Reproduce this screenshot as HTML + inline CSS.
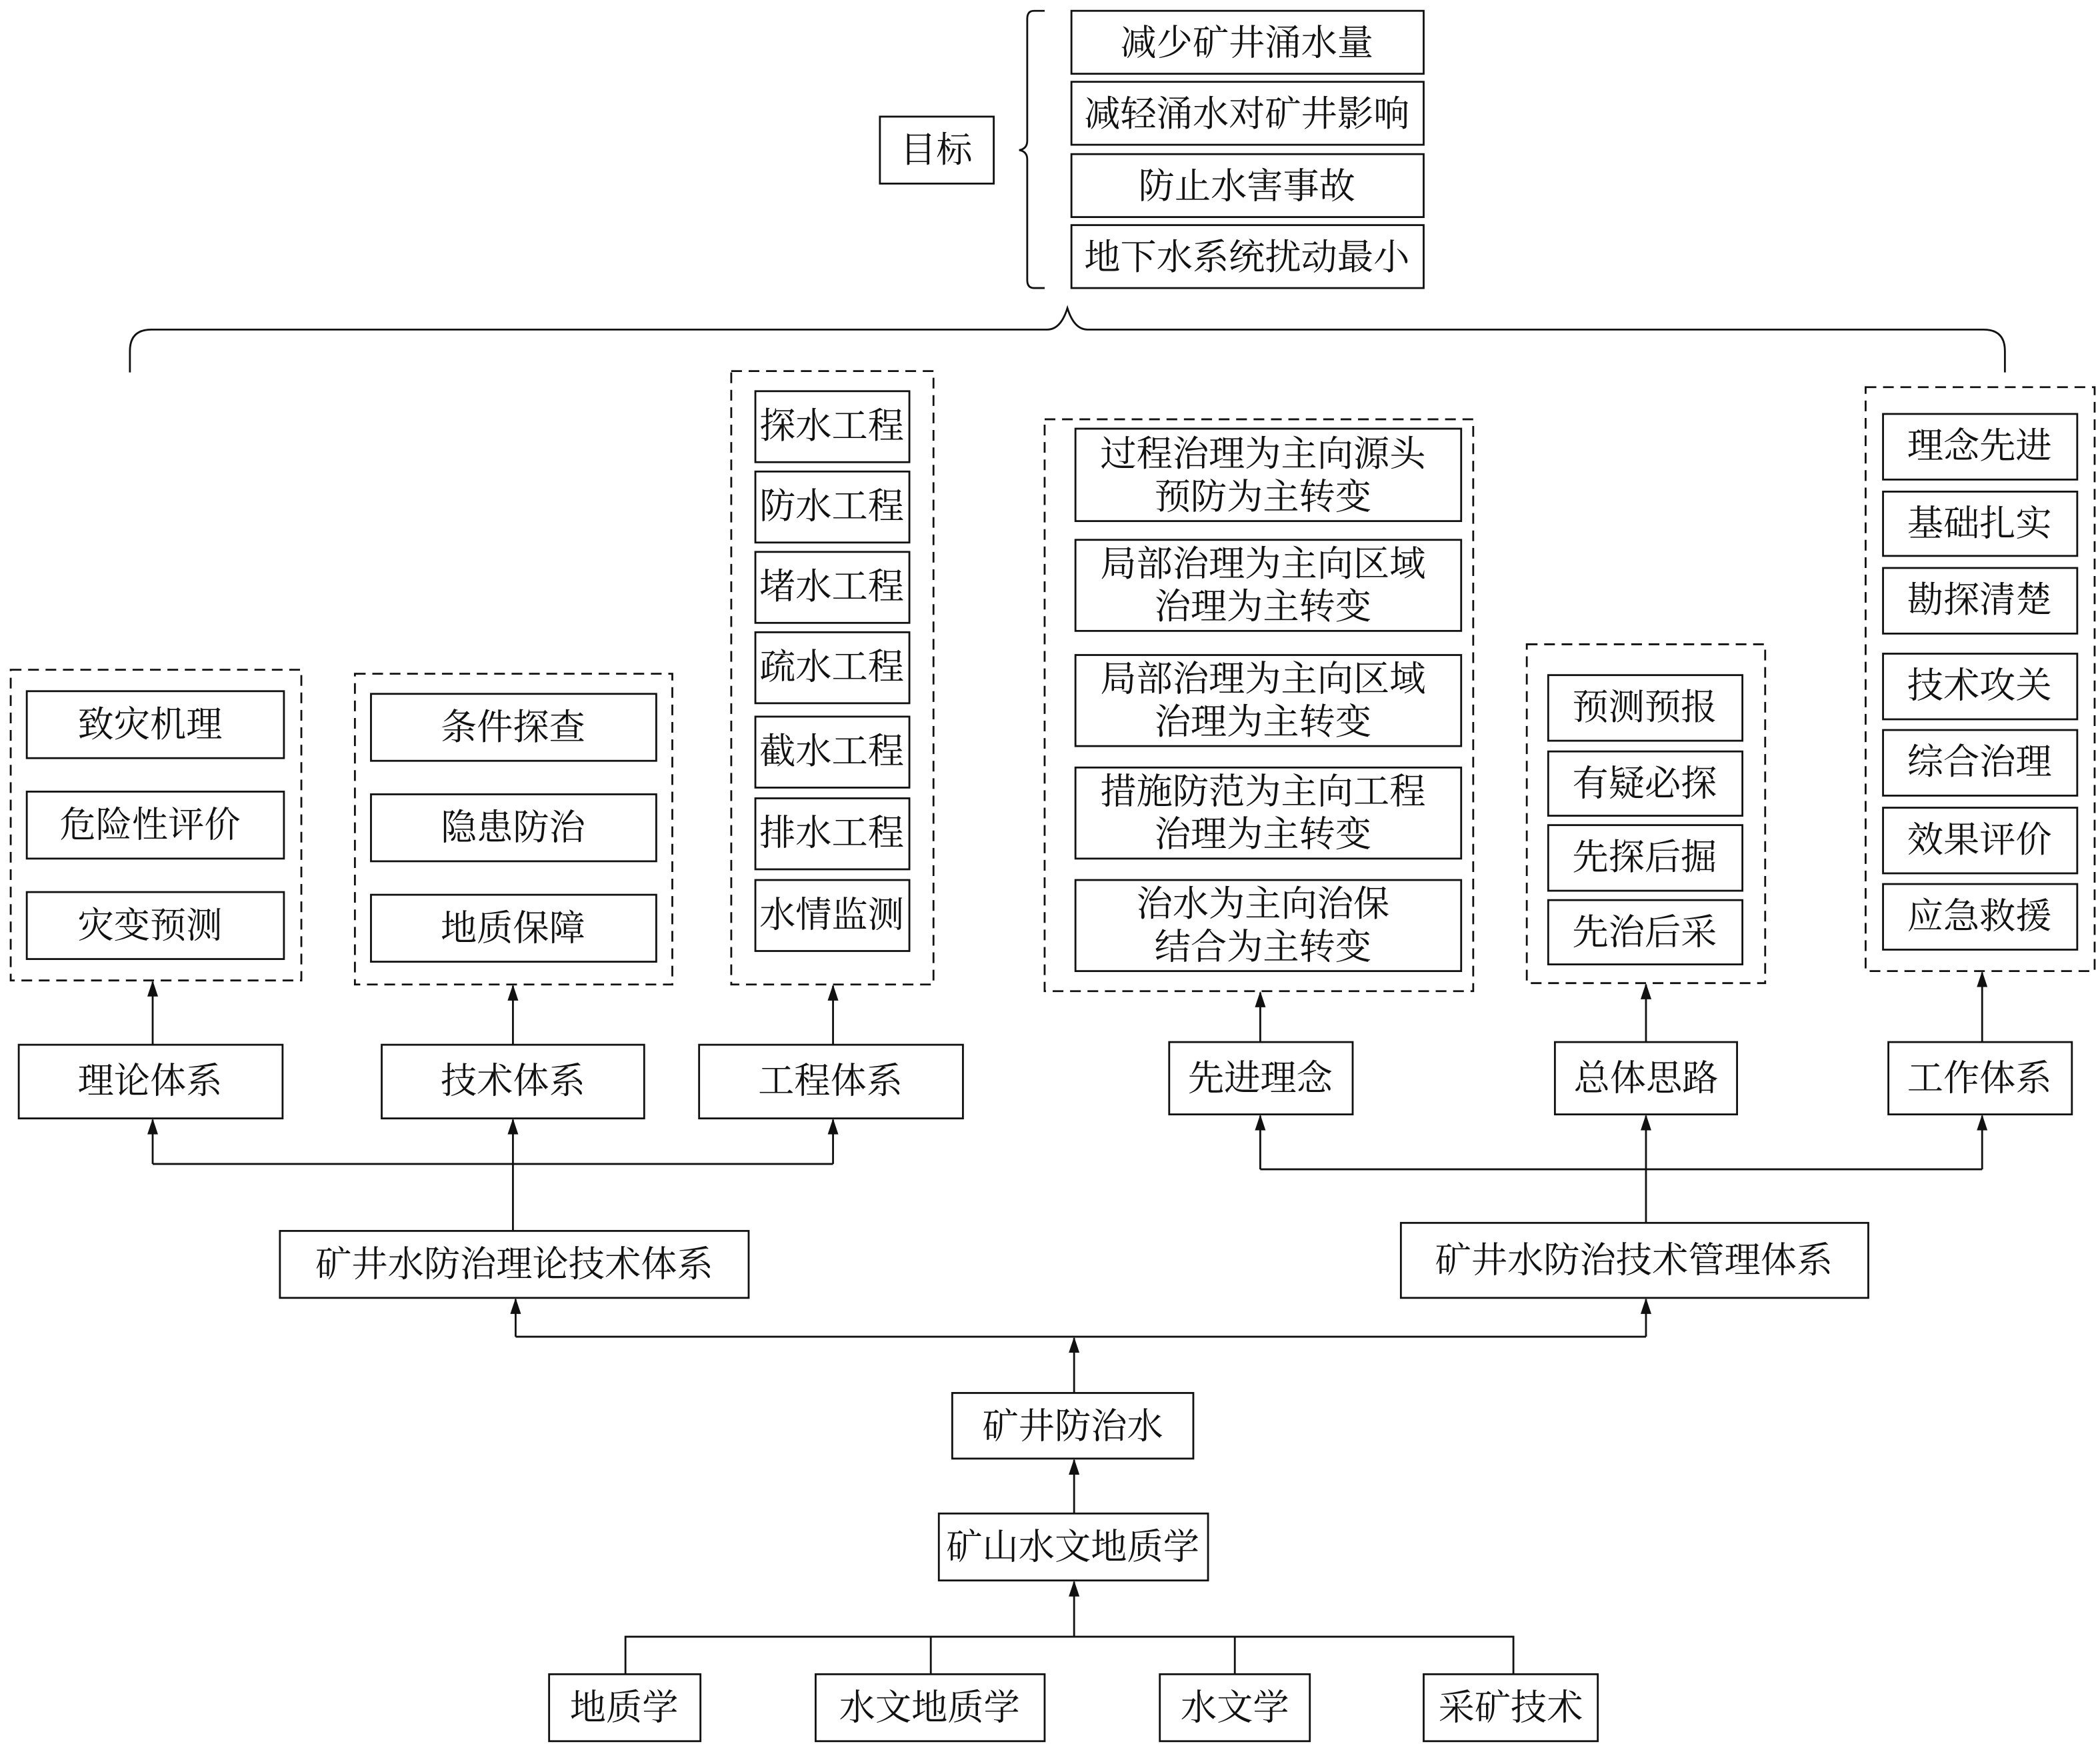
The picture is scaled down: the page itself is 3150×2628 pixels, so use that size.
<!DOCTYPE html>
<html><head><meta charset="utf-8"><style>
html,body{margin:0;padding:0;background:#fff}
svg{display:block}
text{font-family:"Liberation Serif","Noto Serif CJK SC",serif;font-size:27px;fill:#111;text-anchor:middle;dominant-baseline:central}
.b{fill:#fff;stroke:#111;stroke-width:1.4}
.d{fill:none;stroke:#111;stroke-width:1.4;stroke-dasharray:8 5}
.l{fill:none;stroke:#111;stroke-width:1.4}
</style></head><body>
<svg width="3150" height="2628" viewBox="0 0 1568 1308" xmlns="http://www.w3.org/2000/svg">
<defs><marker id="a" markerWidth="12" markerHeight="8" refX="11" refY="4" orient="auto" markerUnits="userSpaceOnUse" viewBox="0 0 12 8"><path d="M0 0 L12 4 L0 8 Z" fill="#111"/></marker></defs>
<g>
<rect class="b" x="657" y="87" width="85" height="50"/><text x="699" y="112">目标</text>
<path class="l" d="M780 8 H772 Q767 8 767 14 V105 Q767 111 761 112 Q767 113 767 119 V209 Q767 215 772 215 H780"/>
<rect class="b" x="800" y="8" width="263" height="47"/><text x="931" y="32">减少矿井涌水量</text>
<rect class="b" x="800" y="61" width="263" height="47"/><text x="931" y="85">减轻涌水对矿井影响</text>
<rect class="b" x="800" y="115" width="263" height="47"/><text x="931" y="139">防止水害事故</text>
<rect class="b" x="800" y="168" width="263" height="47"/><text x="931" y="192">地下水系统扰动最小</text>
<path class="l" d="M97 278 V262 Q97 246 113 246 H782 Q792 246 797 230 Q802 246 812 246 H1481 Q1497 246 1497 262 V278"/>
<rect class="d" x="8" y="500" width="217" height="232"/>
<rect class="b" x="20" y="516" width="192" height="50"/><text x="112" y="541">致灾机理</text>
<rect class="b" x="20" y="591" width="192" height="50"/><text x="112" y="616">危险性评价</text>
<rect class="b" x="20" y="666" width="192" height="50"/><text x="112" y="691">灾变预测</text>
<rect class="d" x="265" y="503" width="237" height="232"/>
<rect class="b" x="277" y="518" width="213" height="50"/><text x="383" y="543">条件探查</text>
<rect class="b" x="277" y="593" width="213" height="50"/><text x="383" y="618">隐患防治</text>
<rect class="b" x="277" y="668" width="213" height="50"/><text x="383" y="693">地质保障</text>
<rect class="d" x="546" y="277" width="151" height="458"/>
<rect class="b" x="564" y="292" width="115" height="53"/><text x="621" y="318">探水工程</text>
<rect class="b" x="564" y="352" width="115" height="53"/><text x="621" y="378">防水工程</text>
<rect class="b" x="564" y="412" width="115" height="53"/><text x="621" y="438">堵水工程</text>
<rect class="b" x="564" y="472" width="115" height="53"/><text x="621" y="498">疏水工程</text>
<rect class="b" x="564" y="535" width="115" height="53"/><text x="621" y="561">截水工程</text>
<rect class="b" x="564" y="596" width="115" height="53"/><text x="621" y="622">排水工程</text>
<rect class="b" x="564" y="657" width="115" height="53"/><text x="621" y="683">水情监测</text>
<rect class="d" x="780" y="313" width="320" height="427"/>
<rect class="b" x="803" y="320" width="288" height="69"/><text x="943" y="339">过程治理为主向源头</text><text x="943" y="371">预防为主转变</text>
<rect class="b" x="803" y="403" width="288" height="68"/><text x="943" y="421">局部治理为主向区域</text><text x="943" y="453">治理为主转变</text>
<rect class="b" x="803" y="489" width="288" height="68"/><text x="943" y="507">局部治理为主向区域</text><text x="943" y="539">治理为主转变</text>
<rect class="b" x="803" y="573" width="288" height="68"/><text x="943" y="591">措施防范为主向工程</text><text x="943" y="623">治理为主转变</text>
<rect class="b" x="803" y="657" width="288" height="68"/><text x="943" y="675">治水为主向治保</text><text x="943" y="707">结合为主转变</text>
<rect class="d" x="1140" y="481" width="178" height="253"/>
<rect class="b" x="1156" y="504" width="145" height="49"/><text x="1228" y="528">预测预报</text>
<rect class="b" x="1156" y="561" width="145" height="48"/><text x="1228" y="585">有疑必探</text>
<rect class="b" x="1156" y="616" width="145" height="49"/><text x="1228" y="640">先探后掘</text>
<rect class="b" x="1156" y="672" width="145" height="48"/><text x="1228" y="696">先治后采</text>
<rect class="d" x="1393" y="289" width="171" height="436"/>
<rect class="b" x="1406" y="309" width="145" height="49"/><text x="1478" y="333">理念先进</text>
<rect class="b" x="1406" y="367" width="145" height="48"/><text x="1478" y="391">基础扎实</text>
<rect class="b" x="1406" y="424" width="145" height="49"/><text x="1478" y="448">勘探清楚</text>
<rect class="b" x="1406" y="488" width="145" height="49"/><text x="1478" y="512">技术攻关</text>
<rect class="b" x="1406" y="545" width="145" height="49"/><text x="1478" y="569">综合治理</text>
<rect class="b" x="1406" y="603" width="145" height="49"/><text x="1478" y="627">效果评价</text>
<rect class="b" x="1406" y="660" width="145" height="49"/><text x="1478" y="684">应急救援</text>
<rect class="b" x="14" y="780" width="197" height="55"/><text x="112" y="807">理论体系</text>
<rect class="b" x="285" y="780" width="196" height="55"/><text x="383" y="807">技术体系</text>
<rect class="b" x="522" y="780" width="197" height="55"/><text x="620" y="807">工程体系</text>
<rect class="b" x="873" y="778" width="137" height="54"/><text x="941" y="805">先进理念</text>
<rect class="b" x="1161" y="778" width="136" height="54"/><text x="1229" y="805">总体思路</text>
<rect class="b" x="1410" y="778" width="137" height="54"/><text x="1478" y="805">工作体系</text>
<g class="l" marker-end="url(#a)">
<line x1="114" y1="780" x2="114" y2="733"/>
<line x1="383" y1="780" x2="383" y2="736"/>
<line x1="622" y1="780" x2="622" y2="736"/>
<line x1="941" y1="778" x2="941" y2="741"/>
<line x1="1229" y1="778" x2="1229" y2="735"/>
<line x1="1480" y1="778" x2="1480" y2="726"/>
<line x1="114" y1="869" x2="114" y2="836"/>
<line x1="383" y1="919" x2="383" y2="836"/>
<line x1="622" y1="869" x2="622" y2="836"/>
<line x1="941" y1="873" x2="941" y2="833"/>
<line x1="1229" y1="913" x2="1229" y2="833"/>
<line x1="1480" y1="873" x2="1480" y2="833"/>
<line x1="385" y1="998" x2="385" y2="970"/>
<line x1="1229" y1="998" x2="1229" y2="970"/>
<line x1="802" y1="1040" x2="802" y2="999"/>
<line x1="802" y1="1130" x2="802" y2="1090"/>
<line x1="802" y1="1222" x2="802" y2="1181"/>
</g>
<path class="l" d="M114 869 H622 M941 873 H1480 M385 998 H1229 M467 1250 V1222 H1130 V1250 M695 1222 V1250 M922 1222 V1250"/>
<rect class="b" x="209" y="919" width="350" height="50"/><text x="384" y="944">矿井水防治理论技术体系</text>
<rect class="b" x="1046" y="913" width="349" height="56"/><text x="1220" y="941">矿井水防治技术管理体系</text>
<rect class="b" x="711" y="1040" width="180" height="49"/><text x="801" y="1065">矿井防治水</text>
<rect class="b" x="701" y="1130" width="201" height="50"/><text x="801" y="1155">矿山水文地质学</text>
<rect class="b" x="410" y="1250" width="113" height="50"/><text x="466" y="1275">地质学</text>
<rect class="b" x="609" y="1250" width="171" height="50"/><text x="694" y="1275">水文地质学</text>
<rect class="b" x="866" y="1250" width="112" height="50"/><text x="922" y="1275">水文学</text>
<rect class="b" x="1063" y="1250" width="130" height="50"/><text x="1128" y="1275">采矿技术</text>
</g>
</svg>
</body></html>
